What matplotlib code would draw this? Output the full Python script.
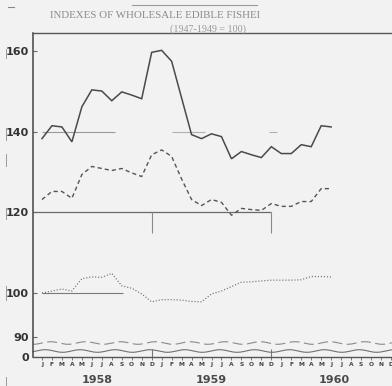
import numpy as np
import matplotlib
matplotlib.use("Agg")
import matplotlib.pyplot as plt
from matplotlib.transforms import blended_transform_factory
from matplotlib.lines import Line2D

# ---------------- data ----------------
month_letters = list("JFMAMJJASOND") * 3
years = ["1958", "1959", "1960"]
year_pos = [5.5, 17.0, 29.3]
months = list(range(30))  # Jan 1958 .. Jun 1960

series_solid = [138.3, 141.5, 141.2, 137.5, 146.2, 150.4, 150.1, 147.7, 149.9, 149.1,
                148.2, 159.7, 160.2, 157.5, 148.4, 139.3, 138.3, 139.5, 138.8, 133.3,
                135.1, 134.3, 133.6, 136.3, 134.6, 134.6, 136.8, 136.3, 141.5, 141.2]
series_dashed = [123.2, 125.2, 125.2, 123.5, 129.4, 131.4, 130.9, 130.4, 130.9, 129.8,
                 128.9, 134.3, 135.5, 133.9, 128.3, 123.2, 121.7, 123.2, 122.5, 119.3,
                 121.0, 120.7, 120.5, 122.2, 121.5, 121.5, 122.7, 122.7, 125.9, 125.9]
series_dotted = [100.0, 100.5, 101.0, 100.5, 103.6, 104.0, 103.9, 104.9, 101.8, 101.2,
                 99.8, 98.0, 98.5, 98.5, 98.4, 98.1, 98.0, 99.8, 100.5, 101.6,
                 102.7, 102.8, 103.0, 103.2, 103.2, 103.2, 103.3, 104.1, 104.1, 104.0]

ytick_vals = [0, 90, 100, 120, 140, 160]
ytick_labels = ["0", "90", "100", "120", "140", "160"]

title = "INDEXES OF WHOLESALE EDIBLE FISHEI"
subtitle = "(1947-1949 = 100)"

# ---------------- broken-axis scale ----------------
S = 1.09      # stretch of the 90-100 band
K = 0.0551    # compression below 90
def fwd(v):
    v = np.asarray(v, dtype=float)
    mid = 100 - (100 - v) * S
    low = (100 - 10 * S) - (90 - v) * K
    return np.where(v >= 100, v, np.where(v >= 90, mid, low))
def inv(u):
    u = np.asarray(u, dtype=float)
    u90 = 100 - 10 * S
    mid = 100 - (100 - u) / S
    low = 90 - (u90 - u) / K
    return np.where(u >= 100, u, np.where(u >= u90, mid, low))

BG = "#f2f2f2"
INK = "#4a4a4a"

fig = plt.figure(figsize=(3.92, 3.86), dpi=100)
fig.patch.set_facecolor(BG)
ax = fig.add_axes([33/392, 29/386, 359/392, 324/386])
ax.set_facecolor(BG)
ax.set_yscale("function", functions=(fwd, inv))
ax.set_xlim(-0.9, 35.1)
ax.set_ylim(0, 164.5)

# reference lines
ax.hlines(120, -0.9, 23, color="#6a6a6a", lw=0.9)
ax.vlines([11, 23], 115, 120, color="#8a8a8a", lw=0.8)
ax.hlines(140, 0, 7.3, color="#9a9a9a", lw=0.8)
ax.hlines(140, 13, 16.3, color="#b0b0b0", lw=0.8)
ax.hlines(140, 22.8, 23.6, color="#b0b0b0", lw=0.8)
ax.hlines(100, 0, 8.1, color="#7a7a7a", lw=0.8)
ax.vlines([11, 23], 0, 35, color="#777777", lw=0.8)

# series
ax.plot(months, series_solid, color=INK, lw=1.1, solid_joinstyle="miter")
ax.plot(months, series_dashed, color="#555555", lw=1.0, dashes=(3, 2.2))
ax.plot(months, series_dotted, color="#666666", lw=0.9, linestyle=(0, (0.8, 1.6)))

# break wavy lines
tb = blended_transform_factory(ax.transData, ax.transAxes)
xs = np.linspace(-0.9, 35.1, 400)
ax.plot(xs, 0.0432 + 0.004 * np.sin(xs * 2 * np.pi / 3.5), color="#8a8a8a", lw=0.8,
        dashes=(9, 4), transform=tb, clip_on=False)
ax.plot(xs, 0.0185 + 0.004 * np.sin(xs * 2 * np.pi / 3.5 + 1.0), color="#707070", lw=0.8,
        transform=tb, clip_on=False)

# spines
ax.spines["right"].set_visible(False)
ax.spines["left"].set_color("#444444")
ax.spines["left"].set_linewidth(1.1)
ax.spines["top"].set_color("#555555")
ax.spines["top"].set_linewidth(1.0)
ax.spines["bottom"].set_color("#555555")
ax.spines["bottom"].set_linewidth(1.0)

# ticks
ax.set_yticks(ytick_vals)
ax.set_yticklabels(ytick_labels, fontsize=8, fontweight="bold", color="#333333",
                   family=["Liberation Sans Narrow", "DejaVu Sans"])
ax.tick_params(axis="y", direction="in", length=3, width=0.8, color="#666666", pad=3)
ax.set_xticks(range(36))
ax.set_xticklabels(month_letters, fontsize=4.3, fontweight="bold", color="#444444",
                   family=["Liberation Sans Narrow", "DejaVu Sans"])
ax.tick_params(axis="x", direction="out", length=2, width=0.6, color="#666666", pad=1.5)

ty = blended_transform_factory(ax.transData, fig.transFigure)
for yp, yl in zip(year_pos, years):
    ax.text(yp, 1 - 380/386, yl, transform=ty, ha="center", va="center",
            fontsize=8, fontweight="bold", color="#4a4a4a", clip_on=False)

# titles
fig.text(50/392, 1 - 15/386, title, ha="left", va="center", fontsize=7.8,
         family="Liberation Serif", color="#8a8a8a")
fig.text(208/392, 1 - 29/386, subtitle, ha="center", va="center", fontsize=7.2,
         family="Liberation Serif", color="#9a9a9a")
fig.add_artist(Line2D([132/392, 257/392], [1 - 5/386, 1 - 5/386], color="#999999", lw=0.8))
fig.add_artist(Line2D([8/392, 14/392], [1 - 7/386, 1 - 7/386], color="#888888", lw=0.8))

# scan marks at left margin
for y0, y1 in [(49, 58), (128, 140), (154, 166), (208, 219), (286, 300), (377, 386)]:
    fig.add_artist(Line2D([6/392, 6/392], [1 - y0/386, 1 - y1/386], color="#9a9a9a", lw=0.7))

fig.savefig("out.png", dpi=100, facecolor=BG)
